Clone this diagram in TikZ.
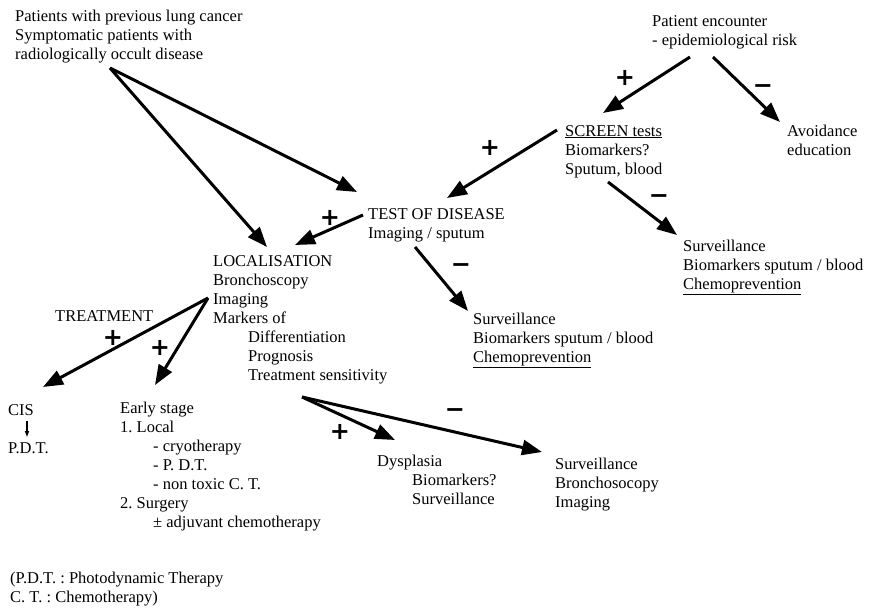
\documentclass[tikz,border=0pt]{standalone}
\usepackage{fontspec}
\setmainfont{Liberation Serif}
\newfontfamily\sgnfont{DejaVu Sans}
\usetikzlibrary{arrows.meta}
\frenchspacing
\begin{document}
\begin{tikzpicture}[x=1pt,y=-1pt,
  txt/.style={anchor=north west,inner sep=0pt,align=left,
    font=\fontsize{16.5}{19}\selectfont\frenchspacing,execute at begin node=\strut},
  arr/.style={line width=3pt,-{Triangle[length=20pt,width=15pt]}},
  thin arr/.style={line width=1.3pt,-{Triangle[length=6pt,width=4pt]}},
  sgn/.style={inner sep=0pt,font=\sgnfont\bfseries\fontsize{24}{24}\selectfont}]
\useasboundingbox (0,0) rectangle (872,609);
\fill[white] (0,0) rectangle (872,609);

% text nodes
\node[txt] (tl) at (15,10) {Patients with previous lung cancer\\Symptomatic patients with\\radiologically occult disease};
\node[txt] (pe) at (652,15) {Patient encounter\\- epidemiological risk};
\node[txt] (scr) at (565,125) {\underline{SCREEN tests}\\Biomarkers?\\Sputum, blood};
\node[txt] (avo) at (787,125) {Avoidance\\education};
\node[txt] (sr) at (683,240) {Surveillance\\Biomarkers sputum / blood\\\underline{Chemoprevention}};
\node[txt] (test) at (368,208) {TEST OF DISEASE\\Imaging / sputum};
\node[txt] (loc) at (213,255) {LOCALISATION\\Bronchoscopy\\Imaging\\Markers of\\\hspace*{35pt}Differentiation\\\hspace*{35pt}Prognosis\\\hspace*{35pt}Treatment sensitivity};
\node[txt] (sm) at (473,313) {Surveillance\\Biomarkers sputum / blood\\\underline{Chemoprevention}};
\node[txt] (treat) at (55,308) {TREATMENT};
\node[txt] (cis) at (8,402) {CIS};
\node[txt] (pdt) at (8,440) {P.D.T.};
\node[txt] (early) at (120,402) {Early stage\\1. Local\\\hspace*{33pt}- cryotherapy\\\hspace*{33pt}- P. D.T.\\\hspace*{33pt}- non toxic C. T.\\2. Surgery\\\hspace*{33pt}± adjuvant chemotherapy};
\node[txt] (dys) at (377,455) {Dysplasia\\\hspace*{35pt}Biomarkers?\\\hspace*{35pt}Surveillance};
\node[txt] (sb) at (555,458) {Surveillance\\Bronchosocopy\\Imaging};
\node[txt] (foot) at (10,572) {(P.D.T. : Photodynamic Therapy\\C. T. : Chemotherapy)};

% connector end points
\coordinate (tl-o) at (110,68);
\coordinate (test-i1) at (357,192);
\coordinate (loc-i1) at (267,247);
\coordinate (pe-o1) at (690,57);
\coordinate (scr-i) at (603,113);
\coordinate (pe-o2) at (713,57);
\coordinate (avo-i) at (780,122);
\coordinate (scr-o1) at (557,130);
\coordinate (test-i2) at (447,198);
\coordinate (scr-o2) at (608,182);
\coordinate (sr-i) at (677,235);
\coordinate (test-o1) at (363,215);
\coordinate (loc-i2) at (295,245);
\coordinate (test-o2) at (415,247);
\coordinate (sm-i) at (468,311);
\coordinate (loc-o1) at (208,298);
\coordinate (cis-i) at (43,387);
\coordinate (early-i) at (155,385);
\coordinate (loc-o2) at (302,397);
\coordinate (dys-i) at (395,440);
\coordinate (sb-i) at (542,452);
\coordinate (cis-o) at (27,421);
\coordinate (pdt-i) at (27,437);

% connectors
\draw[arr] (tl-o) -- (test-i1);
\draw[arr] (tl-o) -- (loc-i1);
\draw[arr] (pe-o1) -- (scr-i);
\draw[arr] (pe-o2) -- (avo-i);
\draw[arr] (scr-o1) -- (test-i2);
\draw[arr] (scr-o2) -- (sr-i);
\draw[arr] (test-o1) -- (loc-i2);
\draw[arr] (test-o2) -- (sm-i);
\draw[arr] (loc-o1) -- (cis-i);
\draw[arr] (loc-o1) -- (early-i);
\draw[arr] (loc-o2) -- (dys-i);
\draw[arr] (loc-o2) -- (sb-i);
\draw[thin arr] (cis-o) -- (pdt-i);

% signs
\node[sgn] (p1) at (625,78) {+};
\node[sgn] (m1) at (763,89) {−};
\node[sgn] (p2) at (490,148) {+};
\node[sgn] (m2) at (659,199) {−};
\node[sgn] (p3) at (330,218) {+};
\node[sgn] (m3) at (461,268) {−};
\node[sgn] (p4) at (113,338) {+};
\node[sgn] (p5) at (160,348) {+};
\node[sgn] (p6) at (340,432) {+};
\node[sgn] (m4) at (455,413) {−};
\end{tikzpicture}
\end{document}
